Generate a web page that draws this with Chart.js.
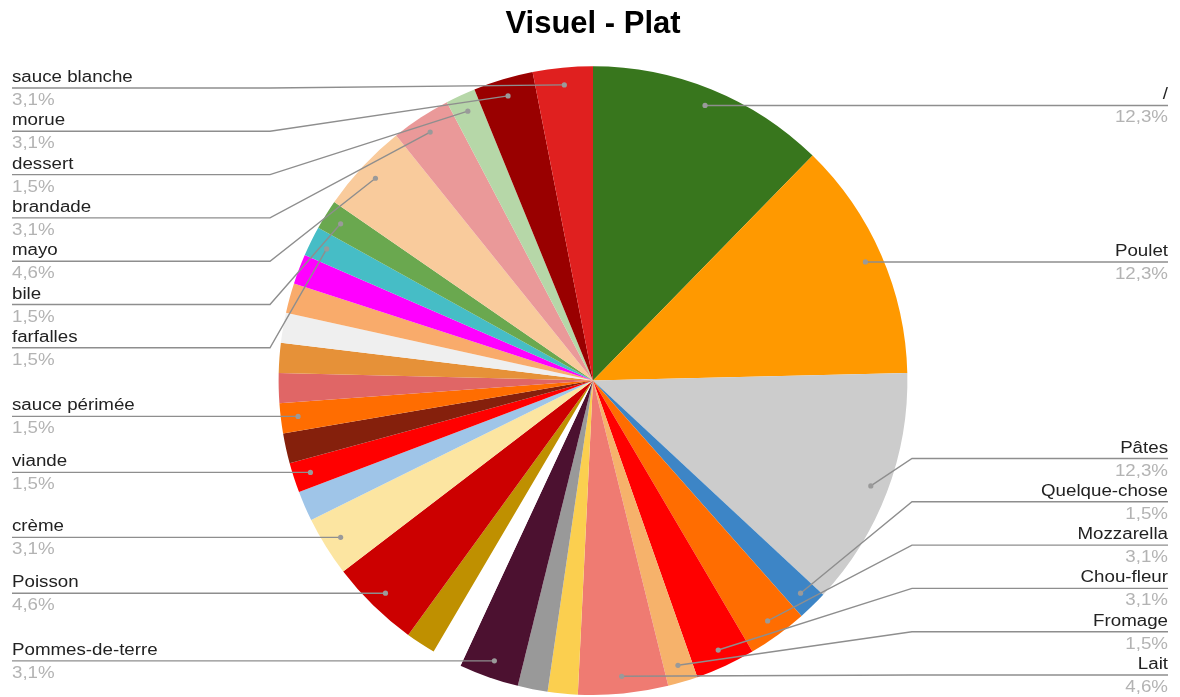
<!DOCTYPE html>
<html>
<head>
<meta charset="utf-8">
<title>Visuel - Plat</title>
<script src="https://cdn.jsdelivr.net/npm/chart.js@4/dist/chart.umd.min.js"></script>
<style>
  html, body { margin: 0; padding: 0; background: #ffffff; }
  #wrap { width: 1180px; height: 697px; position: relative; }
</style>
</head>
<body>
<div id="wrap"><canvas id="chart"></canvas></div>
<script>
// Dish categories, clockwise from 12 o'clock. Empty names are slices drawn without a callout.
const categories = [
  '/', 'Poulet', 'Pâtes', 'Quelque-chose', 'Mozzarella', 'Chou-fleur', 'Fromage', 'Lait',
  '', '', 'Pommes-de-terre', '', '', 'Poisson', 'crème', '', 'viande', '',
  'sauce périmée', '', '', '', '', '', 'farfalles', 'bile', 'mayo', 'brandade',
  'dessert', 'morue', 'sauce blanche'
];

// Number of answers per category (65 in total)
const counts = [
  8, 8, 8, 1, 2, 2, 1, 3,
  1, 1, 2, 1, 1, 3, 2, 1, 1, 1,
  1, 1, 1, 1, 1, 1, 1, 1, 3, 2,
  1, 2, 2
];

// Slice colours, same order as the categories
const sliceColors = [
  '#38761d', '#ff9900', '#cccccc', '#3d85c6', '#ff6d01', '#ff0000', '#f6b26b', '#ef7b72',
  '#fbcf4f', '#999999', '#4c1130', '#ffffff', '#bf9000', '#cc0000', '#fce5a1', '#9fc5e8', '#ff0000', '#85200c',
  '#ff6d01', '#e06666', '#e69138', '#efefef', '#f9ab6b', '#ff00ff', '#46bdc6', '#6aa84f', '#f9cb9c', '#ea9999',
  '#b6d7a8', '#990000', '#e0201f'
];

const chartTitle = 'Visuel - Plat';

// Callout labels with leader lines, laid out in two columns on either side of the pie
const calloutPlugin = {
  id: 'callouts',
  afterDatasetsDraw(chart) {
    const ctx = chart.ctx;
    const meta = chart.getDatasetMeta(0);
    const values = chart.data.datasets[0].data;
    const names = chart.data.labels;
    const total = values.reduce((a, b) => a + b, 0);

    const FONT = '16px "Liberation Sans", Arial, sans-serif';
    const STRETCH = 1.17;
    const GAP = 43.3;
    const MIN_Y = 88, MAX_Y = 675;
    const LEFT_TEXT_X = 12, LEFT_ELBOW_X = 270;
    const RIGHT_TEXT_X = 1168, RIGHT_ELBOW_X = 912;

    const items = [];
    meta.data.forEach((arc, i) => {
      if (!names[i]) return;
      const p = arc.getProps(['x', 'y', 'startAngle', 'endAngle', 'outerRadius'], true);
      const mid = (p.startAngle + p.endAngle) / 2;
      const r = p.outerRadius * 0.945;
      const px = p.x + Math.cos(mid) * r;
      const py = p.y + Math.sin(mid) * r;
      const pct = (values[i] / total * 100).toFixed(1).replace('.', ',') + '%';
      items.push({ name: names[i], pct, px, py, left: px < p.x });
    });

    // keep the callouts of one column at least GAP apart
    function spread(list) {
      list.sort((a, b) => a.py - b.py);
      let prev = -Infinity;
      list.forEach(it => { it.ly = Math.max(it.py, MIN_Y, prev + GAP); prev = it.ly; });
      let next = Infinity;
      for (let k = list.length - 1; k >= 0; k--) {
        const it = list[k];
        it.ly = Math.min(it.ly, MAX_Y, next - GAP);
        next = it.ly;
      }
    }
    const leftItems = items.filter(it => it.left);
    const rightItems = items.filter(it => !it.left);
    spread(leftItems);
    spread(rightItems);

    function text(str, x, y, align, color) {
      ctx.save();
      ctx.translate(x, y);
      ctx.scale(STRETCH, 1);
      ctx.font = FONT;
      ctx.fillStyle = color;
      ctx.textAlign = align;
      ctx.textBaseline = 'alphabetic';
      ctx.fillText(str, 0, 0);
      ctx.restore();
    }

    ctx.save();
    items.forEach(it => {
      const textX = it.left ? LEFT_TEXT_X : RIGHT_TEXT_X;
      const elbowX = it.left ? LEFT_ELBOW_X : RIGHT_ELBOW_X;
      const align = it.left ? 'left' : 'right';

      ctx.beginPath();
      ctx.moveTo(textX, it.ly);
      ctx.lineTo(elbowX, it.ly);
      ctx.lineTo(it.px, it.py);
      ctx.strokeStyle = '#8e8e8e';
      ctx.lineWidth = 1.4;
      ctx.stroke();

      ctx.beginPath();
      ctx.arc(it.px, it.py, 2.6, 0, Math.PI * 2);
      ctx.fillStyle = '#9a9a9a';
      ctx.fill();

      text(it.name, textX, it.ly - 6, align, '#222222');
      text(it.pct, textX, it.ly + 17, align, '#b3b3b3');
    });
    ctx.restore();
  }
};

new Chart(document.getElementById('chart'), {
  type: 'pie',
  data: {
    labels: categories,
    datasets: [{
      data: counts,
      backgroundColor: sliceColors,
      borderWidth: 0,
      hoverOffset: 0
    }]
  },
  options: {
    responsive: true,
    maintainAspectRatio: false,
    animation: false,
    layout: { padding: { top: 0, bottom: 2, left: 6, right: 0 } },
    plugins: {
      legend: { display: false },
      tooltip: { enabled: true },
      title: {
        display: true,
        text: chartTitle,
        color: '#000000',
        font: { family: '"Liberation Sans", Arial, sans-serif', size: 31, weight: 'bold' },
        padding: { top: 6, bottom: 23 }
      }
    }
  },
  plugins: [calloutPlugin]
});
</script>
</body>
</html>
